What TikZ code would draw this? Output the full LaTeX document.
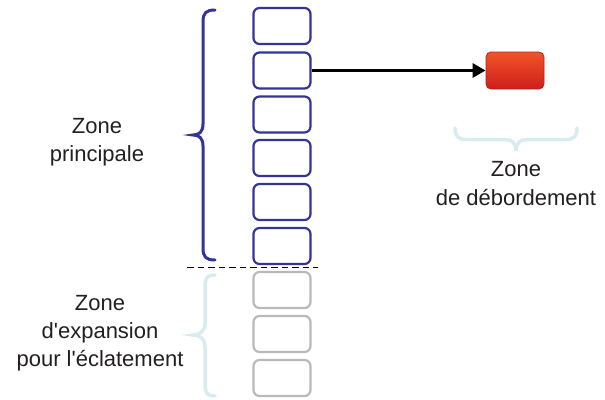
\documentclass[tikz,border=0pt]{standalone}
\usepackage{fontspec}
\setmainfont{Liberation Sans}[Ligatures=TeXOff]
\usetikzlibrary{arrows.meta}
\definecolor{mainblue}{RGB}{52,52,150}
\definecolor{slotgray}{RGB}{185,185,185}
\definecolor{lightbrace}{RGB}{214,236,238}
\definecolor{txt}{RGB}{35,31,32}
\definecolor{redtop}{RGB}{242,84,40}
\definecolor{redbot}{RGB}{205,30,28}
\definecolor{redline}{RGB}{175,35,30}
\tikzset{
  slot/.style={draw=mainblue, line width=2.2pt, rounded corners=6pt, minimum width=57pt, minimum height=36pt, inner sep=0pt},
  spare/.style={slot, draw=slotgray},
  overflow/.style={draw=redline, line width=0.8pt, rounded corners=5pt, minimum width=58pt, minimum height=37pt, inner sep=0pt, top color=redtop, bottom color=redbot},
  lbl/.style={text=txt, font=\fontsize{22}{28.3}\selectfont, align=center, inner sep=0pt, anchor=base},
  bigbrace/.style={mainblue, line width=3pt, line cap=round},
  softbrace/.style={lightbrace, line width=3.5pt, line cap=round},
  link/.style={line width=3pt, -{Triangle[length=13pt,width=14pt]}},
  cut/.style={line width=1.5pt, dash pattern=on 6.5pt off 4pt}
}
\begin{document}
\begin{tikzpicture}[x=1pt,y=-1pt]
\useasboundingbox (0,0) rectangle (605,399);
% main slots
\foreach \i/\y in {1/26,2/70.5,3/114.5,4/158,5/202,6/246}{
  \node[slot] (b\i) at (282,\y) {};
}
% expansion slots
\foreach \i/\y in {7/290,8/334,9/378}{
  \node[spare] (b\i) at (282,\y) {};
}
% overflow
\node[overflow] (r) at (515,70.5) {};
\draw[link] (b2.east) -- (r.west);
% dashed separator
\coordinate (d1) at (187,267.5);
\coordinate (d2) at (318,267.5);
\draw[cut] (d1) -- (d2);
% braces
\draw[bigbrace] (215,10) .. controls (206,10) and (203,13) .. (203,22) -- (203,124)
  .. controls (203,132) and (199,135) .. (193,135)
  .. controls (199,135) and (203,138) .. (203,146) -- (203,248)
  .. controls (203,257) and (206,260) .. (215,260);
\draw[softbrace] (215,275) .. controls (207,275) and (205,278) .. (205,287) -- (205,323)
  .. controls (205,331) and (200,335) .. (193,335)
  .. controls (200,335) and (205,339) .. (205,347) -- (205,384)
  .. controls (205,393) and (207,396) .. (215,396);
\draw[softbrace] (455,128) .. controls (455,136) and (458,139.5) .. (466,139.5) -- (505,139.5)
  .. controls (512,139.5) and (516,143) .. (516,151)
  .. controls (516,143) and (520,139.5) .. (527,139.5) -- (566,139.5)
  .. controls (574,139.5) and (577,136) .. (577,128);
% labels (anchored at the baseline of their last line)
\node[lbl] (zp) at (97,161.7) {Zone\\principale};
\node[lbl] (zd) at (516,205) {Zone\\de débordement};
\node[lbl] (ze) at (100,366.7) {Zone\\d'expansion\\pour l'éclatement};
\end{tikzpicture}
\end{document}
